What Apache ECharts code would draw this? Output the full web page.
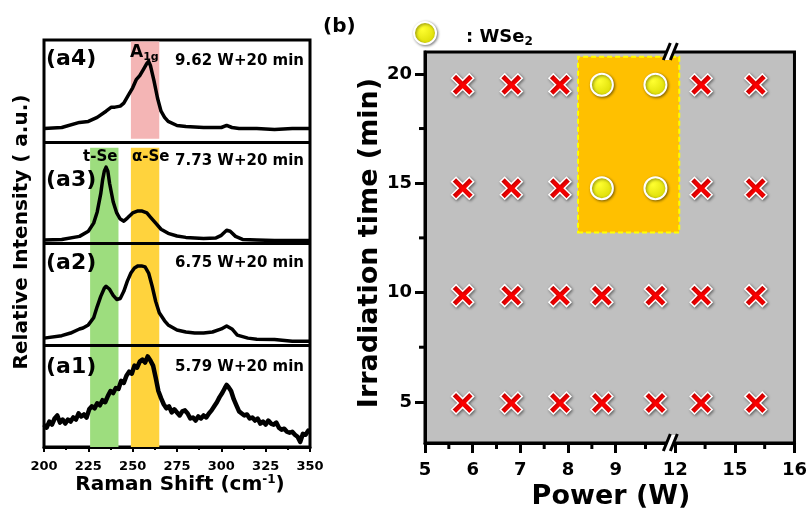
<!DOCTYPE html>
<html><head><meta charset="utf-8">
<script src="https://cdn.jsdelivr.net/npm/echarts@6/dist/echarts.min.js"></script>
<style>html,body{margin:0;padding:0;background:#fff}#c{width:810px;height:516px}</style>
</head><body><div id="c"></div>
<script>
// ---------- Panel (a): Raman spectra (intensity normalised within each sub-panel) ----------
const a1Shift = [200,201.5,203,204.5,206,207.5,209,210.5,212,213.5,215,216.5,218,219.5,221,222.5,224,225.5,227,228.5,230,231.5,233,234.5,236,237.5,239,240.5,242,243.5,245,246.5,248,249.5,251,252.5,254,255.5,257,258.5,260,261.5,263,264.5,266,267.5,269,270.5,272,273.5,275,276.5,278,279.5,281,282.5,284,285.5,287,288.5,290,291.5,293,294.5,296,297.5,299,300.5,302,303,304,305.5,307,308.5,310,311.5,313,314.5,316,317.5,319,320.5,322,323.5,325,326.5,328,329.5,331,332.5,334,335.5,337,338.5,340,341.5,343,344.5,346,347.5,349,350];
const a1Int   = [0.22,0.19,0.25,0.22,0.28,0.31,0.24,0.27,0.23,0.27,0.25,0.29,0.27,0.33,0.30,0.32,0.29,0.37,0.40,0.38,0.43,0.41,0.46,0.44,0.50,0.55,0.53,0.58,0.57,0.65,0.63,0.70,0.74,0.72,0.80,0.78,0.84,0.86,0.83,0.89,0.85,0.80,0.68,0.55,0.48,0.42,0.38,0.40,0.34,0.37,0.34,0.31,0.35,0.36,0.33,0.28,0.29,0.26,0.30,0.28,0.31,0.29,0.33,0.36,0.40,0.44,0.49,0.53,0.58,0.61,0.59,0.55,0.47,0.41,0.35,0.33,0.31,0.32,0.28,0.29,0.26,0.28,0.23,0.25,0.22,0.26,0.23,0.22,0.24,0.19,0.17,0.18,0.15,0.14,0.15,0.12,0.10,0.05,0.13,0.12,0.16,0.15];
const a2Shift = [200,210,215,220,222,225,228,230,232,234,235,237,239,241,243,245,247,249,251,253,255,257,259,261,263,265,268,270,275,280,285,290,295,300,303,306,309,315,320,330,340,350];
const a2Int   = [0.07,0.094,0.12,0.16,0.17,0.20,0.27,0.38,0.48,0.56,0.58,0.55,0.49,0.45,0.46,0.53,0.63,0.71,0.76,0.78,0.78,0.77,0.71,0.58,0.43,0.32,0.24,0.20,0.15,0.13,0.12,0.12,0.13,0.16,0.19,0.16,0.10,0.07,0.06,0.057,0.04,0.04];
const a3Shift = [200,210,220,225,228,230,232,233,234,235,236,237,239,241,243,245,247,250,253,255,258,260,263,266,270,275,280,290,297,300,303,305,308,312,320,330,340,350];
const a3Int   = [0.035,0.04,0.07,0.12,0.20,0.31,0.49,0.62,0.71,0.75,0.71,0.59,0.41,0.30,0.24,0.22,0.25,0.30,0.32,0.32,0.30,0.26,0.20,0.14,0.10,0.074,0.06,0.05,0.055,0.08,0.13,0.12,0.07,0.04,0.035,0.03,0.03,0.03];
const a4Shift = [200,210,220,225,230,235,238,240,243,245,248,250,252,254,256,258,259,260,262,264,266,268,270,275,280,290,295,300,303,306,310,320,330,340,350];
const a4Int   = [0.13,0.14,0.19,0.20,0.24,0.30,0.34,0.34,0.35,0.38,0.47,0.53,0.61,0.65,0.71,0.77,0.79,0.75,0.60,0.43,0.30,0.24,0.20,0.16,0.15,0.14,0.14,0.14,0.16,0.14,0.13,0.13,0.12,0.13,0.13];
const panelLabels = ['(a1)','(a2)','(a3)','(a4)'];
const conditions  = ['5.79 W+20 min','6.75 W+20 min','7.73 W+20 min','9.62 W+20 min'];
const ramanMin = 200, ramanMax = 350, ramanStep = 25;
const tSeBand  = [226, 242];
const aSeBand  = [249, 265];
const a1gBand  = [249, 265];

// ---------- Panel (b): power / irradiation-time map ----------
const powerTicks = [5, 6, 7, 8, 9, 12, 15, 16];
const timeTicks  = [5, 10, 15, 20];
const timeMinorTicks = [7.5, 12.5, 17.5];
const powers = [5.79, 6.81, 7.83, 8.71, 11.0, 13.3, 15.35];
const times  = [4.95, 9.86, 14.77, 19.5];
const wse2Map = [            // rows = times, cols = powers ; 1 = WSe2 obtained
  [0,0,0,0,0,0,0],
  [0,0,0,0,0,0,0],
  [0,0,0,1,1,0,0],
  [0,0,0,1,1,0,0]
];
const windowPower = [8.21, 12.2];
const windowTime  = [12.75, 20.78];

// broken power axis: piecewise scale (tick -> axis position)
const tickPos = [0, 1, 2, 3, 4, 5.25, 6.5, 7.75];
function pmap(p){
  for (let i = 0; i < powerTicks.length - 1; i++){
    if (p <= powerTicks[i+1] || i === powerTicks.length - 2){
      const t = (p - powerTicks[i]) / (powerTicks[i+1] - powerTicks[i]);
      return tickPos[i] + t * (tickPos[i+1] - tickPos[i]);
    }
  }
}
const minorPos = [];
for (let i = 0; i < tickPos.length - 1; i++) minorPos.push((tickPos[i] + tickPos[i+1]) / 2);

const F = 'DejaVu Sans';
const shifts = [a1Shift, a2Shift, a3Shift, a4Shift];
const ints = [a1Int, a2Int, a3Int, a4Int];

const series = [];
// bands
series.push({
  type: 'line', xAxisIndex: 0, yAxisIndex: 0, data: [], silent: true, z: 1,
  markArea: { silent: true, data: [
    [{xAxis: tSeBand[0], yAxis: 0, itemStyle: {color: '#9ddd7e'}}, {xAxis: tSeBand[1], yAxis: 2.94}],
    [{xAxis: aSeBand[0], yAxis: 0, itemStyle: {color: '#ffd33d'}}, {xAxis: aSeBand[1], yAxis: 2.94}],
    [{xAxis: a1gBand[0], yAxis: 3.03, itemStyle: {color: '#f4b5b5'}}, {xAxis: a1gBand[1], yAxis: 3.985}]
  ]}
});
for (let k = 0; k < 4; k++){
  series.push({
    type: 'line', xAxisIndex: 0, yAxisIndex: 0, showSymbol: false, z: 3,
    lineStyle: {color: '#000', width: k === 0 ? 4.5 : 3.5, join: 'round'},
    data: shifts[k].map((s, i) => [s, ints[k][i] + k])
  });
}
series.push({
  type: 'line', xAxisIndex: 0, yAxisIndex: 0, data: [], z: 5, silent: true,
  markLine: { silent: true, symbol: 'none', label: {show: false},
    lineStyle: {color: '#000', width: 3, type: 'solid'},
    data: [{yAxis: 1}, {yAxis: 2}, {yAxis: 3}] }
});

// panel b
series.push({
  type: 'scatter', xAxisIndex: 1, yAxisIndex: 1, data: [], silent: true, z: 1,
  markArea: { silent: true, data: [[
    {xAxis: pmap(windowPower[0]), yAxis: windowTime[0]},
    {xAxis: pmap(windowPower[1]), yAxis: windowTime[1]}
  ]], itemStyle: {color: '#ffc000', borderColor: '#ffff00', borderWidth: 2, borderType: [5, 3]} }
});
const crossPts = [], dotPts = [];
times.forEach((t, r) => powers.forEach((p, c) => {
  (wse2Map[r][c] ? dotPts : crossPts).push([pmap(p), t]);
}));
series.push({
  type: 'scatter', xAxisIndex: 1, yAxisIndex: 1, z: 4, data: crossPts,
  symbol: 'path://M0,2 L2,0 L5,3 L8,0 L10,2 L7,5 L10,8 L8,10 L5,7 L2,10 L0,8 L3,5 Z',
  symbolSize: 22,
  itemStyle: {color: '#ff0000', borderColor: '#fff', borderWidth: 1.5,
    shadowBlur: 3, shadowColor: 'rgba(0,0,0,0.45)', shadowOffsetX: 1, shadowOffsetY: 1, opacity: 1}
});
const yellowGrad = new echarts.graphic.RadialGradient(0.4, 0.35, 0.7, [
  {offset: 0, color: '#ffff30'}, {offset: 1, color: '#d8d800'}]);
series.push({
  type: 'scatter', xAxisIndex: 1, yAxisIndex: 1, z: 4, data: dotPts,
  symbol: 'circle', symbolSize: 22,
  itemStyle: {color: yellowGrad, borderColor: '#fff', borderWidth: 2,
    shadowBlur: 3, shadowColor: 'rgba(0,0,0,0.45)', shadowOffsetX: 1, shadowOffsetY: 1, opacity: 1}
});

const option = {
  animation: false,
  backgroundColor: '#fff',
  grid: [
    {left: 44, top: 40, width: 266, height: 407, show: true, borderColor: '#000', borderWidth: 3, backgroundColor: 'transparent'},
    {left: 425, top: 52, width: 373, height: 391, show: true, borderColor: '#000', borderWidth: 3, backgroundColor: '#c0c0c0'}
  ],
  xAxis: [
    {gridIndex: 0, type: 'value', position: 'bottom', min: ramanMin, max: ramanMax, interval: ramanStep,
      axisLine: {show: true, lineStyle: {color: '#000', width: 3}},
      axisTick: {show: true, inside: false, length: 5, lineStyle: {color: '#000', width: 2}},
      minorTick: {show: true, splitNumber: 2, length: 3, lineStyle: {color: '#000', width: 2}},
      axisLabel: {fontFamily: F, fontWeight: 'bold', fontSize: 13, color: '#000', margin: 13},
      splitLine: {show: false}},
    {gridIndex: 1, type: 'value', position: 'bottom', min: 0, max: tickPos[tickPos.length - 1],
      axisLine: {show: true, lineStyle: {color: '#000', width: 3}},
      axisTick: {show: true, length: 10, lineStyle: {color: '#000', width: 3}, customValues: tickPos},
      axisLabel: {fontFamily: F, fontWeight: 'bold', fontSize: 18, color: '#000', margin: 18,
        customValues: tickPos,
        formatter: v => { let best = 0; tickPos.forEach((q, i) => { if (Math.abs(q - v) < Math.abs(tickPos[best] - v)) best = i; }); return String(powerTicks[best]); }},
      splitLine: {show: false}}
  ],
  yAxis: [
    {gridIndex: 0, type: 'value', min: 0, max: 4, show: false, splitLine: {show: false}},
    {gridIndex: 1, type: 'value', position: 'left', min: 3.12, max: 21.0,
      axisLine: {show: true, lineStyle: {color: '#000', width: 3}},
      axisTick: {show: true, length: 10, lineStyle: {color: '#000', width: 3}, customValues: timeTicks},
      axisLabel: {fontFamily: F, fontWeight: 'bold', fontSize: 18, color: '#000', margin: 13, customValues: timeTicks},
      splitLine: {show: false}}
  ],
  series: series
};

const chart = echarts.init(document.getElementById('c'), null, {renderer: 'canvas'});
chart.setOption(option);

// ---------- annotations ----------
const g = [];
const txt = (x, y, text, size, extra) => Object.assign({
  type: 'text', x: x, y: y, z: 50,
  style: Object.assign({text: text, fontFamily: F, fontWeight: 'bold', fontSize: size, fill: '#000',
    align: 'left', verticalAlign: 'middle'}, extra || {})
});
const labelY = [367, 263, 180, 59];
const condY  = [367, 263, 161, 61];
for (let k = 0; k < 4; k++){
  g.push(txt(46, labelY[k], panelLabels[k], 22));
  g.push(txt(304, condY[k], conditions[k], 15, {align: 'right'}));
}
g.push(txt(83, 157, 't-Se', 15));
g.push(txt(132, 157, 'α-Se', 15));
g.push({type: 'text', x: 130, y: 53, z: 50, style: {
  text: '{a|A}{s|1g}', verticalAlign: 'middle',
  rich: {a: {fontFamily: F, fontWeight: 'bold', fontSize: 17, fill: '#000'},
         s: {fontFamily: F, fontWeight: 'bold', fontSize: 11, fill: '#000', verticalAlign: 'bottom', padding: [8, 0, 0, 0]}}}});
// axis titles
g.push({type: 'text', x: 180, y: 485, z: 50, style: {
  text: '{a|Raman Shift (cm}{s|-1}{a|)}', align: 'center', verticalAlign: 'middle',
  rich: {a: {fontFamily: F, fontWeight: 'bold', fontSize: 20, fill: '#000'},
         s: {fontFamily: F, fontWeight: 'bold', fontSize: 12, fill: '#000', padding: [0, 0, 10, 0]}}}});
g.push({type: 'text', x: 22, y: 232, rotation: Math.PI / 2, z: 50, style: {
  text: 'Relative Intensity ( a.u.)', fontFamily: F, fontWeight: 'bold', fontSize: 20, fill: '#000',
  align: 'center', verticalAlign: 'middle'}});
g.push({type: 'text', x: 611, y: 497, z: 50, style: {
  text: 'Power (W)', fontFamily: F, fontWeight: 'bold', fontSize: 27, fill: '#000',
  align: 'center', verticalAlign: 'middle'}});
g.push({type: 'text', x: 370, y: 243, rotation: Math.PI / 2, z: 50, style: {
  text: 'Irradiation time (min)', fontFamily: F, fontWeight: 'bold', fontSize: 27, fill: '#000',
  align: 'center', verticalAlign: 'middle'}});
g.push(txt(323, 27, '(b)', 20));
// legend
g.push({type: 'circle', z: 50, shape: {cx: 425, cy: 33, r: 11},
  style: {fill: yellowGrad, stroke: '#fff', lineWidth: 2, shadowBlur: 3, shadowColor: 'rgba(0,0,0,0.45)', shadowOffsetX: 1, shadowOffsetY: 1}});
g.push({type: 'text', x: 466, y: 37, z: 50, style: {
  text: '{a|: WSe}{s|2}', verticalAlign: 'middle',
  rich: {a: {fontFamily: F, fontWeight: 'bold', fontSize: 18, fill: '#000'},
         s: {fontFamily: F, fontWeight: 'bold', fontSize: 12, fill: '#000', padding: [9, 0, 0, 0]}}}});
// minor ticks of panel (b), placed through the axis scales
const px = (x, y) => chart.convertToPixel({xAxisIndex: 1, yAxisIndex: 1}, [x, y]);
const yBottom = px(0, 3.12)[1], xLeft = px(0, 3.12)[0];
minorPos.forEach(v => {
  const x = px(v, 3.12)[0];
  g.push({type: 'line', z: 40, shape: {x1: x, y1: yBottom, x2: x, y2: yBottom + 6}, style: {stroke: '#000', lineWidth: 3}});
});
timeMinorTicks.forEach(v => {
  const y = px(0, v)[1];
  g.push({type: 'line', z: 40, shape: {x1: xLeft - 6, y1: y, x2: xLeft, y2: y}, style: {stroke: '#000', lineWidth: 3}});
});
// axis break marks on the power axis
const brk = pmap(11.8);
[21.0, 3.12].forEach(t => {
  const p = px(brk, t);
  const cx = p[0], cy = p[1];
  g.push({type: 'polygon', z: 60, shape: {points: [[cx - 7, cy + 8], [cx - 1, cy - 8], [cx + 5, cy - 8], [cx - 1, cy + 8]]},
    style: {fill: '#fff'}});
  g.push({type: 'line', z: 61, shape: {x1: cx - 8, y1: cy + 8, x2: cx - 1, y2: cy - 9}, style: {stroke: '#000', lineWidth: 3}});
  g.push({type: 'line', z: 61, shape: {x1: cx - 1, y1: cy + 8, x2: cx + 6, y2: cy - 9}, style: {stroke: '#000', lineWidth: 3}});
});
chart.setOption({graphic: g});
</script>
</body></html>
